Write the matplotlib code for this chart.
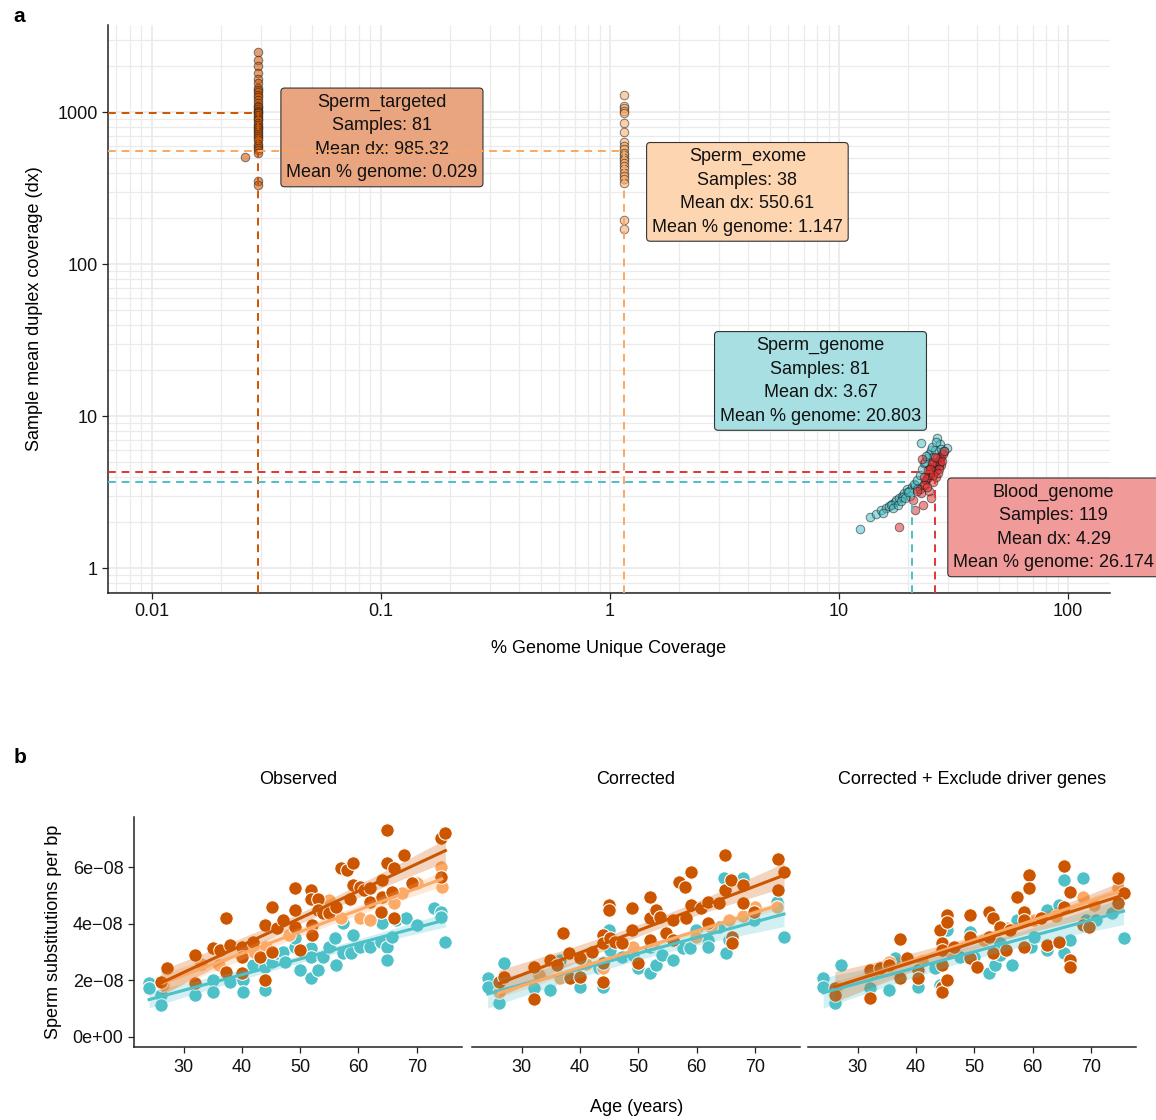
import numpy as np
import matplotlib.pyplot as plt
from matplotlib.ticker import LogLocator, FixedLocator, NullFormatter

plt.rcParams['font.family'] = ['Liberation Sans', 'DejaVu Sans']

# ---------------- panel a data ----------------
tgt_y = [2500, 2200, 2000, 1800, 1650, 1550, 1450, 1400, 1350, 1300, 1250, 1200,
         1150, 1100, 1080, 1050, 1020, 1000, 980, 950, 930, 900, 880, 850, 820,
         800, 780, 760, 740, 720, 700, 680, 650, 620, 600, 580, 560, 540, 350, 330]
tgt_x = [0.029] * len(tgt_y)
tgt_out_x = [0.0255]
tgt_out_y = [505]

exo_y = [1290, 1100, 1060, 1010, 980, 850, 740, 640, 600, 570, 540, 520, 500,
         480, 460, 440, 420, 400, 380, 360, 340, 195, 170]
exo_x = [1.147] * len(exo_y)

gen_x = [12.4, 13.7, 14.5, 15.2, 16.0, 16.5, 17.0, 17.5, 17.8, 18.3, 18.8, 19.2,
         19.8, 20.3, 20.8, 21.2, 21.5, 22.0, 22.5, 23.0, 23.5, 24.2, 24.8, 25.1,
         25.8, 26.3, 26.9, 27.5, 28.2, 29.5, 22.7, 19.0, 16.8, 20.5, 23.8,
         15.6, 17.2, 18.0, 18.6, 19.5, 20.0, 21.8, 24.0, 25.5, 26.6, 27.9, 28.6]
gen_y = [1.81, 2.17, 2.28, 2.4, 2.5, 2.55, 2.65, 2.7, 2.8, 2.9, 3.0, 3.1, 3.3,
         3.2, 3.4, 3.6, 3.5, 3.8, 4.1, 4.5, 4.9, 5.3, 5.6, 5.95, 5.4, 6.0, 7.2,
         6.5, 5.8, 6.2, 6.6, 2.95, 2.6, 3.0, 5.0,
         2.3, 2.5, 2.6, 2.75, 2.9, 3.15, 3.3, 5.5, 6.3, 6.8, 6.1, 5.9]

bld_x = [18.2, 21.5, 23.0, 25.1, 22.5, 23.5, 24.0, 24.5, 25.0, 25.5, 26.0, 26.5,
         27.0, 27.5, 28.0, 24.2, 24.8, 25.3, 25.8, 26.2, 26.8, 27.3, 23.8, 22.8,
         25.6, 26.4, 27.8, 28.5, 24.6, 21.0, 23.2,
         24.4, 25.2, 25.9, 26.6, 27.2, 27.6, 26.0, 25.4, 24.9, 26.9, 27.4, 28.2,
         23.6, 24.1, 25.7, 26.3, 27.0, 22.0, 28.8]
bld_y = [1.85, 2.4, 5.2, 2.9, 3.3, 3.6, 3.8, 4.0, 4.2, 4.4, 4.6, 4.8, 5.0, 5.2,
         5.4, 3.9, 4.1, 4.3, 4.5, 4.7, 4.9, 5.1, 3.5, 3.1, 3.7, 4.0, 4.8, 5.6,
         3.2, 2.8, 2.6,
         4.4, 4.6, 4.3, 4.4, 4.7, 5.0, 5.0, 4.9, 4.5, 5.3, 4.5, 5.1,
         4.0, 3.4, 4.1, 5.4, 4.2, 3.2, 5.9]

groups = ['Sperm_targeted', 'Sperm_exome', 'Sperm_genome', 'Blood_genome']
n_samples = [81, 38, 81, 119]
mean_dx = [985.32, 550.61, 3.67, 4.29]
mean_pct = [0.029, 1.147, 20.803, 26.174]
label_x = [0.101, 3.98, 8.3, 86.5]
label_y = [680, 298, 17.0, 1.85]

# ---------------- panel b data (units of 1e-8) ----------------
obs_dark_age = [26.1, 27.2, 32.0, 32.0, 37.2, 35.1, 36.3, 38.0, 37.2, 40.0, 40.0, 40.0,
                41.9, 43.1, 44.0, 44.0, 45.1, 45.1, 46.0, 47.1, 49.1, 49.1, 49.1, 49.9,
                51.9, 51.9, 52.1, 52.1, 53.0, 53.0, 53.9, 55.0, 56.2, 57.0, 58.1, 59.0,
                59.0, 58.5, 60.2, 61.0, 61.9, 61.9, 64.1, 64.1, 63.9, 64.9, 64.9, 66.1,
                65.8, 66.1, 67.8, 69.2, 74.1, 74.9, 74.1]
obs_dark_val = [1.95, 2.44, 2.9, 1.9, 4.2, 3.15, 3.08, 3.26, 2.3, 3.2, 2.83, 2.27,
                3.37, 2.83, 2.0, 3.96, 4.6, 3.0, 3.86, 4.14, 5.27, 4.5, 3.9, 3.08,
                5.2, 4.9, 3.96, 3.6, 4.9, 4.5, 4.39, 4.39, 4.6, 5.98, 5.9, 6.16,
                5.38, 4.9, 5.3, 5.2, 5.27, 4.78, 5.56, 4.96, 4.42, 7.33, 6.16, 5.98,
                5.13, 4.21, 6.44, 5.45, 7.04, 7.22, 5.66]
obs_light_age = [26.4, 33.0, 36.0, 42.0, 44.2, 48.0, 52.0, 54.9, 57.0, 60.2, 61.9,
                 66.1, 67.5, 70.0, 74.1, 74.3]
obs_light_val = [1.84, 2.6, 2.55, 3.0, 3.19, 3.6, 4.0, 4.85, 4.2, 4.21, 4.14,
                 4.74, 5.1, 5.45, 6.02, 5.31]
obs_teal_age = [24.1, 24.1, 26.1, 26.1, 32.0, 35.1, 35.1, 38.0, 40.2, 40.2, 41.9, 44.0,
                44.0, 45.1, 46.0, 47.1, 47.4, 49.1, 49.1, 49.9, 51.9, 51.9, 51.9, 53.0,
                53.9, 55.0, 55.9, 56.2, 57.3, 57.3, 58.7, 59.0, 60.2, 61.9, 63.9, 64.9,
                64.9, 65.8, 66.4, 68.1, 70.0, 72.9, 74.1, 74.1, 74.9, 64.1]
obs_teal_val = [1.9, 1.73, 1.49, 1.13, 1.49, 2.02, 1.6, 1.95, 2.02, 1.6, 2.55, 1.66,
                2.48, 2.65, 2.97, 3.0, 2.65, 3.19, 3.5, 2.37, 3.15, 2.83, 2.09, 2.37,
                2.83, 3.19, 3.5, 2.55, 4.04, 2.97, 2.97, 3.6, 3.19, 3.19, 3.37, 3.19,
                2.72, 3.54, 4.14, 4.21, 3.96, 4.57, 4.42, 4.25, 3.37, 4.04]

cor_dark_age = [26.1, 27.0, 32.1, 32.1, 34.9, 36.1, 37.1, 38.1, 38.3, 40.1, 40.1, 42.0,
                44.0, 44.0, 44.0, 44.0, 45.0, 45.0, 45.2, 46.0, 47.2, 49.0, 49.0, 50.0,
                52.0, 52.0, 52.0, 53.0, 53.7, 54.8, 55.9, 55.9, 57.0, 58.1, 59.1, 59.1,
                58.2, 60.8, 61.9, 61.9, 63.9, 64.9, 64.9, 65.9, 66.1, 66.1, 67.9, 67.9,
                69.9, 74.0, 75.0, 74.0]
cor_dark_val = [1.96, 2.13, 2.49, 1.33, 2.73, 2.55, 3.67, 2.96, 2.08, 2.79, 2.13, 3.02,
                3.61, 3.32, 2.61, 1.96, 4.67, 4.5, 3.49, 3.37, 3.32, 4.56, 3.79, 2.61,
                4.97, 4.2, 3.43, 4.5, 4.26, 3.67, 4.14, 3.43, 5.5, 5.32, 5.85, 4.67,
                4.2, 4.56, 4.79, 4.02, 4.73, 6.44, 5.2, 5.56, 3.55, 3.32, 5.38, 4.73,
                4.44, 6.29, 5.85, 5.2]
cor_light_age = [26.1, 33.0, 36.6, 41.0, 44.0, 49.1, 52.5, 55.9, 59.9, 62.5, 65.6,
                 68.0, 70.1, 73.8]
cor_light_val = [1.6, 2.2, 2.08, 2.6, 2.43, 3.2, 3.3, 3.43, 3.55, 3.9, 4.14,
                 4.3, 4.61, 4.61]
cor_teal_age = [24.2, 24.2, 26.1, 27.0, 32.1, 34.9, 36.6, 40.1, 43.2, 44.0, 45.0, 47.2,
                49.1, 50.0, 52.0, 53.1, 54.0, 55.9, 57.6, 58.8, 59.9, 61.9, 61.9, 63.9,
                64.8, 65.0, 65.6, 67.9, 67.9, 69.9, 73.8, 75.0, 52.0, 45.2]
cor_teal_val = [2.08, 1.78, 1.19, 2.61, 1.72, 1.66, 2.73, 1.78, 2.43, 1.78, 3.79, 2.84,
                2.9, 2.43, 2.25, 2.55, 2.9, 2.73, 3.14, 3.14, 3.79, 3.43, 3.2, 3.9,
                5.62, 2.96, 3.43, 5.62, 4.26, 4.14, 4.79, 3.55, 3.2, 3.08]

exc_dark_age = [26.1, 26.1, 32.1, 32.1, 33.8, 35.3, 37.3, 37.3, 38.4, 40.4, 40.4, 44.2,
                44.5, 44.5, 44.5, 44.5, 44.5, 45.3, 45.3, 45.3, 46.5, 49.3, 49.3, 49.3,
                50.5, 52.5, 52.5, 53.3, 53.3, 54.5, 55.4, 56.2, 57.4, 58.5, 58.5, 58.5,
                59.4, 59.4, 61.4, 62.5, 64.5, 65.4, 65.4, 66.5, 66.5, 66.5, 68.6, 69.7,
                74.6, 75.6, 74.6]
exc_dark_val = [1.72, 1.49, 2.37, 1.37, 2.43, 2.55, 3.47, 2.08, 2.79, 2.37, 2.08, 3.79,
                3.32, 3.08, 2.55, 1.78, 1.6, 4.32, 4.08, 2.02, 3.2, 4.32, 3.55, 2.79,
                2.49, 4.44, 3.55, 4.2, 2.96, 3.9, 3.08, 3.79, 4.97, 4.44, 4.14, 3.2,
                5.73, 5.26, 4.2, 3.26, 3.37, 6.05, 4.61, 5.14, 2.73, 2.49, 3.96, 3.9,
                5.62, 5.09, 4.73]
exc_light_age = [26.4, 33.0, 35.3, 41.0, 45.9, 51.6, 55.6, 60.2, 64.0, 68.6, 70.6, 74.6]
exc_light_val = [1.78, 2.3, 2.67, 2.7, 3.02, 3.43, 3.85, 4.14, 4.3, 4.97, 4.67, 5.26]
exc_teal_age = [24.1, 24.1, 26.1, 27.2, 32.1, 35.3, 36.4, 40.4, 43.3, 44.2, 45.3, 47.6,
                49.3, 49.9, 52.5, 53.6, 54.5, 56.5, 57.4, 59.7, 60.2, 62.5, 62.5, 64.5,
                65.4, 65.4, 66.5, 68.6, 69.1, 70.8, 73.7, 75.6, 54.5]
exc_teal_val = [2.08, 1.78, 1.19, 2.55, 1.72, 1.66, 2.79, 1.78, 2.43, 1.84, 3.79, 2.84,
                3.73, 2.84, 2.25, 2.55, 2.9, 2.55, 4.14, 3.2, 3.55, 4.5, 3.08, 4.67,
                5.56, 2.96, 3.43, 5.62, 4.14, 4.14, 4.38, 3.49, 3.32]

panel_titles = ['Observed', 'Corrected', 'Corrected + Exclude driver genes']
age_ticks = [30, 40, 50, 60, 70]
sub_ticks = [0, 2, 4, 6]
sub_ticklabels = ['0e+00', '2e\u221208', '4e\u221208', '6e\u221208']

# ---------------- style ----------------
C_TGT = '#CC5500'
C_EXO = '#F9A862'
C_GEN = '#4DC0C8'
C_BLD = '#E03535'
C_LIGHT = '#FDAA66'
BOX_FILL = ['#E9A57F', '#FDD5B1', '#A7DFE2', '#F09A9A']
DARK = '#222222'
FS = 13

fig = plt.figure(figsize=(11.56, 11.2), dpi=100)

# ================= panel a =================
ax = fig.add_axes([0.0934, 0.4705, 0.8668, 0.5071])
ax.set_xscale('log')
ax.set_yscale('log')
ax.set_xlim(0.00643, 152.4)
ax.set_ylim(0.685, 3733)
ax.xaxis.set_minor_locator(LogLocator(base=10, subs=np.arange(2, 10)))
ax.yaxis.set_minor_locator(LogLocator(base=10, subs=np.arange(2, 10)))
ax.xaxis.set_minor_formatter(NullFormatter())
ax.yaxis.set_minor_formatter(NullFormatter())
ax.set_xticks([0.01, 0.1, 1, 10, 100])
ax.set_xticklabels(['0.01', '0.1', '1', '10', '100'])
ax.set_yticks([1, 10, 100, 1000])
ax.set_yticklabels(['1', '10', '100', '1000'])
ax.grid(which='major', color='#EBEBEB', lw=1.3, zorder=0)
ax.grid(which='minor', color='#EBEBEB', lw=0.9, zorder=0)
ax.set_axisbelow(True)
for s in ['top', 'right']:
    ax.spines[s].set_visible(False)
for s in ['left', 'bottom']:
    ax.spines[s].set_color(DARK)
    ax.spines[s].set_linewidth(1.1)
ax.tick_params(which='major', length=4, width=0.9, color=DARK, labelsize=FS, labelcolor='#111111')
ax.tick_params(which='minor', length=0)

pt = dict(s=38, alpha=0.55, edgecolors='#1a1a1a', linewidths=0.7, zorder=3)
ax.scatter(tgt_x + tgt_out_x, tgt_y + tgt_out_y, c=C_TGT, **pt)
ax.scatter(exo_x, exo_y, c=C_EXO, **pt)
ax.scatter(gen_x, gen_y, c=C_GEN, **pt)
ax.scatter(bld_x, bld_y, c=C_BLD, **pt)

xmin, xmax = ax.get_xlim()
ymin, ymax = ax.get_ylim()
for col, mx, my in zip([C_TGT, C_EXO, C_GEN, C_BLD], mean_pct, mean_dx):
    ax.plot([xmin, mx], [my, my], ls=(0, (4, 3)), color=col, lw=1.4, zorder=5)
    ax.plot([mx, mx], [ymin, my], ls=(0, (4, 3)), color=col, lw=1.4, zorder=5)

for i, g in enumerate(groups):
    txt = (f'{g}\nSamples: {n_samples[i]}\nMean dx: {mean_dx[i]}\n'
           f'Mean % genome: {mean_pct[i]}')
    ax.text(label_x[i], label_y[i], txt, ha='center', va='center', fontsize=FS,
            linespacing=1.5, color='#111111', zorder=4,
            bbox=dict(boxstyle='round,pad=0.3,rounding_size=0.2',
                      facecolor=BOX_FILL[i], edgecolor='#333333', linewidth=0.8))

ax.set_xlabel('% Genome Unique Coverage', fontsize=FS, labelpad=14)
ax.set_ylabel('Sample mean duplex coverage (dx)', fontsize=FS, labelpad=10)

fig.text(0.012, 0.985, 'a', fontsize=15, fontweight='bold', va='center')
fig.text(0.012, 0.324, 'b', fontsize=15, fontweight='bold', va='center')

# ================= panel b =================
def fit_band(ax, x, y, col):
    x = np.asarray(x, float)
    y = np.asarray(y, float)
    b1, b0 = np.polyfit(x, y, 1)
    xs = np.linspace(x.min(), x.max(), 100)
    yh = b0 + b1 * xs
    n = len(x)
    resid = y - (b0 + b1 * x)
    s = np.sqrt(np.sum(resid ** 2) / (n - 2))
    se = s * np.sqrt(1 / n + (xs - x.mean()) ** 2 / np.sum((x - x.mean()) ** 2))
    ax.fill_between(xs, (yh - 1.99 * se) * 1e-8, (yh + 1.99 * se) * 1e-8,
                    color=col, alpha=0.25, lw=0, zorder=4)
    ax.plot(xs, yh * 1e-8, color=col, lw=2.2, zorder=5)

panels = [
    (obs_teal_age, obs_teal_val, obs_light_age, obs_light_val, obs_dark_age, obs_dark_val),
    (cor_teal_age, cor_teal_val, cor_light_age, cor_light_val, cor_dark_age, cor_dark_val),
    (exc_teal_age, exc_teal_val, exc_light_age, exc_light_val, exc_dark_age, exc_dark_val),
]
lefts = [0.1159, 0.4083, 0.6990]
width = 0.2835
for k, (ta, tv, la, lv, da, dv) in enumerate(panels):
    axb = fig.add_axes([lefts[k], 0.0652, width, 0.2054])
    axb.set_xlim(21.5, 77.7)
    axb.set_ylim(-0.354e-8, 7.79e-8)
    mk = dict(s=95, edgecolors='white', linewidths=0.8, zorder=3)
    axb.scatter(ta, np.array(tv) * 1e-8, c=C_GEN, **mk)
    axb.scatter(la, np.array(lv) * 1e-8, c=C_LIGHT, **mk)
    axb.scatter(da, np.array(dv) * 1e-8, c=C_TGT, **mk)
    fit_band(axb, ta, tv, C_GEN)
    fit_band(axb, la, lv, C_LIGHT)
    fit_band(axb, da, dv, C_TGT)
    axb.set_xticks(age_ticks)
    axb.set_xticklabels([str(a) for a in age_ticks])
    for s in ['top', 'right']:
        axb.spines[s].set_visible(False)
    axb.spines['bottom'].set_color(DARK)
    axb.spines['bottom'].set_linewidth(1.1)
    axb.tick_params(axis='x', length=4, width=0.9, color=DARK, labelsize=FS,
                    labelcolor='#111111', pad=5)
    if k == 0:
        axb.yaxis.set_major_locator(FixedLocator([v * 1e-8 for v in sub_ticks]))
        axb.set_yticklabels(sub_ticklabels)
        axb.spines['left'].set_color(DARK)
        axb.spines['left'].set_linewidth(1.1)
        axb.tick_params(axis='y', length=4, width=0.9, color=DARK, labelsize=FS,
                        labelcolor='#111111')
        axb.set_ylabel('Sperm substitutions per bp', fontsize=FS, labelpad=8)
    else:
        axb.spines['left'].set_visible(False)
        axb.set_yticks([])
    axb.set_title(panel_titles[k], fontsize=FS, pad=24)

fig.text(0.551, 0.011, 'Age (years)', fontsize=FS, ha='center', va='center')

fig.savefig('out.png', dpi=100)
